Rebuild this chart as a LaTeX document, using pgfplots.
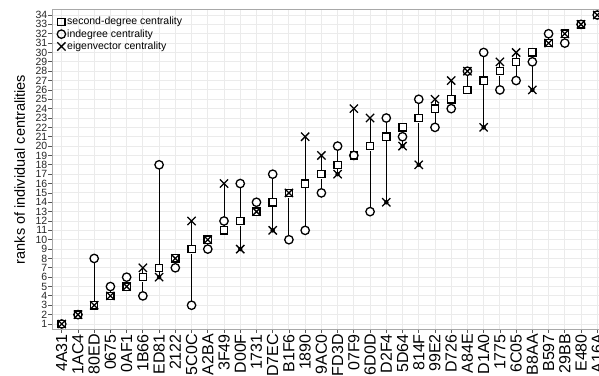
\documentclass[border=0pt]{standalone}
\usepackage{fontspec}
\setmainfont{Liberation Sans}
\usepackage{pgfplots}
\pgfplotsset{compat=1.18}
\usepackage{pgfplotstable}
\definecolor{gridc}{HTML}{EBEBEB}
\definecolor{borderc}{HTML}{A8A8A8}
\definecolor{tickc}{HTML}{555555}

% id  second-degree  indegree  eigenvector  low  high
\pgfplotstableread{
id sq ci cr lo hi
1 1 1 1 1 1
2 2 2 2 2 2
3 3 8 3 3 8
4 4 5 4 4 5
5 5 6 5 5 6
6 6 4 7 4 7
7 7 18 6 6 18
8 8 7 8 7 8
9 9 3 12 3 12
10 10 9 10 9 10
11 11 12 16 11 16
12 12 16 9 9 16
13 13 14 13 13 14
14 14 17 11 11 17
15 15 10 15 10 15
16 16 11 21 11 21
17 17 15 19 15 19
18 18 20 17 17 20
19 19 19 24 19 24
20 20 13 23 13 23
21 21 23 14 14 23
22 22 21 20 20 22
23 23 25 18 18 25
24 24 22 25 22 25
25 25 24 27 24 27
26 26 28 28 26 28
27 27 30 22 22 30
28 28 26 29 26 29
29 29 27 30 27 30
30 30 29 26 26 30
31 31 32 31 31 32
32 32 31 32 31 32
33 33 33 33 33 33
34 34 34 34 34 34
}\data

\begin{document}
\begin{tikzpicture}
\begin{axis}[
  scale only axis, width=555pt, height=320.2pt,
  xmin=0.4, xmax=34.6, ymin=0.4, ymax=34.6,
  xtick={1,...,34},
  xticklabels={4A31,1AC4,80ED,0675,0AF1,1B66,ED81,2122,5C0C,A2BA,3F49,D00F,1731,D7EC,B1F6,1890,9AC0,FD3D,07F9,6D0D,D2F4,5D64,814F,99E2,D726,A84E,D1A0,1775,6C05,B8AA,B597,29BB,E480,A16A},
  ytick={1,...,34},
  xmajorgrids, ymajorgrids,
  grid style={gridc, line width=0.9pt},
  axis line style={borderc, line width=0.8pt},
  tick align=outside, major tick length=3.5pt,
  tick style={tickc, line width=0.8pt},
  xtick pos=lower, ytick pos=left,
  /pgf/number format/assume math mode=true,
  x tick label style={rotate=90, anchor=east, font=\fontsize{16}{16}\selectfont, inner sep=1pt},
  y tick label style={font=\fontsize{10.5}{10.5}\selectfont, inner sep=1pt, text=black!85},
  ylabel={ranks of individual centralities},
  ylabel style={font=\fontsize{14.5}{14.5}\selectfont, at={(axis description cs:-0.0487,0.5)}, anchor=base},
  legend style={at={(axis description cs:0.009,0.981)}, anchor=north west, draw=none, fill=none,
    inner sep=0pt, font=\fontsize{10.5}{12}\selectfont, row sep=0pt, nodes={inner sep=1.6pt}},
  legend cell align=left,
  legend image code/.code={\draw[#1] plot coordinates {(0pt,0pt)};},
]
% ranges
\addplot[forget plot, only marks, mark=none,
  error bars/.cd, y dir=plus, y explicit, error mark=none,
  error bar style={black, line width=0.9pt}]
  table[x=id, y=lo, y error expr=\thisrow{hi}-\thisrow{lo}] {\data};
% white backgrounds
\addplot[forget plot, only marks, mark=square*, mark size=3.65pt,
  mark options={fill=white, draw=white, line width=0.1pt}] table[x=id, y=sq] {\data};
\addplot[forget plot, only marks, mark=*, mark size=4.2pt,
  mark options={fill=white, draw=white, line width=0.1pt}] table[x=id, y=ci] {\data};
% markers
\addplot[only marks, mark=square, mark size=3.65pt,
  mark options={draw=black, line width=1.3pt}] table[x=id, y=sq] {\data};
\addlegendentry{second-degree centrality}
\addplot[only marks, mark=o, mark size=4.2pt,
  mark options={draw=black, line width=1.3pt}] table[x=id, y=ci] {\data};
\addlegendentry{indegree centrality}
\addplot[only marks, mark=x, mark size=5.8pt,
  mark options={draw=black, line width=1.3pt}] table[x=id, y=cr] {\data};
\addlegendentry{eigenvector centrality}
\end{axis}
\pgfresetboundingbox
\useasboundingbox (-52pt,-45.4pt) rectangle (547pt,329.6pt);
\end{tikzpicture}
\end{document}
